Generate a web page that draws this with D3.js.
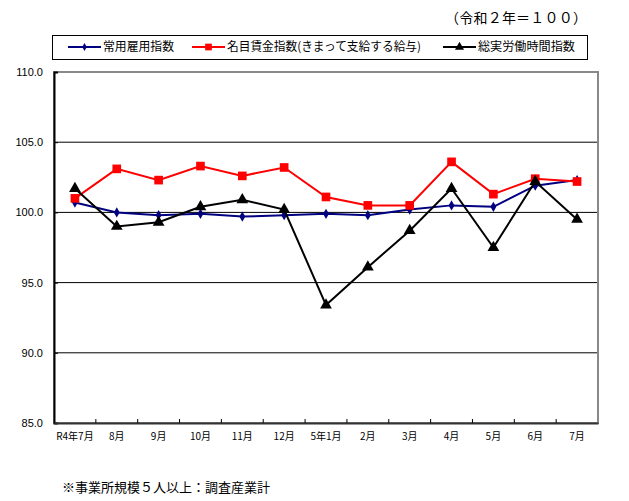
<!DOCTYPE html>
<html>
<head>
<meta charset="utf-8">
<script src="https://cdn.jsdelivr.net/npm/d3@7"></script>
<style>
  body { margin: 0; background: #fff; }
  svg { display: block; }
</style>
</head>
<body>
<svg id="chart"></svg>
<script>
const width = 629;
const height = 501;

// data
const months = ["R4年7月", "8月", "9月", "10月", "11月", "12月", "5年1月", "2月", "3月", "4月", "5月", "6月", "7月"];
const employment = [100.7, 100.0, 99.8, 99.9, 99.7, 99.8, 99.9, 99.8, 100.2, 100.5, 100.4, 101.9, 102.3];
const wages = [101.0, 103.1, 102.3, 103.3, 102.6, 103.2, 101.1, 100.5, 100.5, 103.6, 101.3, 102.4, 102.2];
const hours = [101.7, 99.0, 99.3, 100.4, 100.9, 100.2, 93.4, 96.1, 98.7, 101.7, 97.5, 102.2, 99.5];
const yTicks = [85, 90, 95, 100, 105, 110];

const series = [
  { name: "常用雇用指数", values: employment, color: "#000080", symbol: d3.symbolDiamond, size: 30, textW: 71 },
  { name: "名目賃金指数(きまって支給する給与)", values: wages, color: "#ff0000", symbol: d3.symbolSquare, size: 75, textW: 194 },
  { name: "総実労働時間指数", values: hours, color: "#000000", symbol: d3.symbolTriangle, size: 60, textW: 97 }
];

const jp = "'Noto Sans CJK JP', 'Noto Sans', sans-serif";

const svg = d3.select("#chart")
  .attr("width", width)
  .attr("height", height)
  .style("background", "#fff");

const margin = { left: 54, right: 31, top: 72, bottom: 78 };
const plotW = width - margin.left - margin.right;
const plotH = height - margin.top - margin.bottom;

const x = d3.scaleBand().domain(months).range([margin.left, margin.left + plotW]);
const y = d3.scaleLinear().domain([85, 110]).range([margin.top + plotH, margin.top]);

// gridlines
svg.append("g")
  .selectAll("line")
  .data(yTicks.filter(d => d > 85 && d < 110))
  .enter()
  .append("line")
  .attr("x1", margin.left)
  .attr("x2", margin.left + plotW)
  .attr("y1", d => y(d))
  .attr("y2", d => y(d))
  .attr("stroke", "#000")
  .attr("stroke-width", 1);

// plot frame (top/right gray)
svg.append("rect")
  .attr("x", margin.left)
  .attr("y", margin.top)
  .attr("width", plotW)
  .attr("height", plotH)
  .attr("fill", "none")
  .attr("stroke", "#888")
  .attr("stroke-width", 2);

// y axis
const yAxis = svg.append("g")
  .attr("transform", `translate(${margin.left},0)`)
  .call(d3.axisLeft(y).tickValues(yTicks).tickFormat(d3.format(".1f")).tickSize(-4).tickPadding(11));
yAxis.select(".domain").attr("stroke", "#000").attr("stroke-width", 2);
yAxis.selectAll("text")
  .style("font-family", "'Liberation Sans', Arial, sans-serif")
  .style("font-size", "11px")
  .attr("fill", "#000");

// x axis
const xAxis = svg.append("g")
  .attr("transform", `translate(0,${margin.top + plotH})`)
  .call(d3.axisBottom(x).tickSize(0).tickPadding(10));
xAxis.select(".domain").attr("stroke", "#333").attr("stroke-width", 2);
xAxis.selectAll("text")
  .style("font-family", jp)
  .style("font-size", "10px")
  .attr("fill", "#000");

// inner tick marks between categories
svg.append("g")
  .selectAll("line")
  .data(months.slice(1))
  .enter()
  .append("line")
  .attr("x1", d => x(d))
  .attr("x2", d => x(d))
  .attr("y1", margin.top + plotH)
  .attr("y2", margin.top + plotH - 4)
  .attr("stroke", "#000");

const line = d3.line()
  .x((d, i) => x(months[i]) + x.bandwidth() / 2)
  .y(d => y(d));

series.forEach(s => {
  const g = svg.append("g");
  g.append("path")
    .datum(s.values)
    .attr("d", line)
    .attr("fill", "none")
    .attr("stroke", s.color)
    .attr("stroke-width", 2);
  g.selectAll("path.mark")
    .data(s.values)
    .enter()
    .append("path")
    .attr("class", "mark")
    .attr("d", d3.symbol().type(s.symbol).size(s.size))
    .attr("transform", (d, i) => `translate(${x(months[i]) + x.bandwidth() / 2},${y(d)})`)
    .attr("fill", s.color);
});

// legend
svg.append("rect")
  .attr("x", 52.5)
  .attr("y", 35.5)
  .attr("width", 535)
  .attr("height", 24)
  .attr("fill", "#fff")
  .attr("stroke", "#000");

const legendX = [68, 192, 443];
series.forEach((s, i) => {
  const lx = legendX[i];
  svg.append("line")
    .attr("x1", lx).attr("x2", lx + 33)
    .attr("y1", 47).attr("y2", 47)
    .attr("stroke", s.color).attr("stroke-width", 2);
  svg.append("path")
    .attr("d", d3.symbol().type(s.symbol).size(s.size * 0.6))
    .attr("transform", `translate(${lx + 16.5},47)`)
    .attr("fill", s.color);
  svg.append("text")
    .attr("x", lx + 35)
    .attr("y", 47)
    .attr("dy", "0.35em")
    .attr("textLength", s.textW)
    .attr("lengthAdjust", "spacingAndGlyphs")
    .style("font-family", jp)
    .style("font-size", "12px")
    .text(s.name);
});

// base note
svg.append("text")
  .attr("x", 445)
  .attr("y", 18)
  .attr("dy", "0.35em")
  .attr("textLength", 142)
  .attr("lengthAdjust", "spacing")
  .style("font-family", jp)
  .style("font-size", "14px")
  .text("（令和２年＝１００）");

// footnote
svg.append("text")
  .attr("x", 62)
  .attr("y", 487)
  .attr("dy", "0.35em")
  .style("font-family", jp)
  .style("font-size", "13px")
  .text("※事業所規模５人以上：調査産業計");
</script>
</body>
</html>
